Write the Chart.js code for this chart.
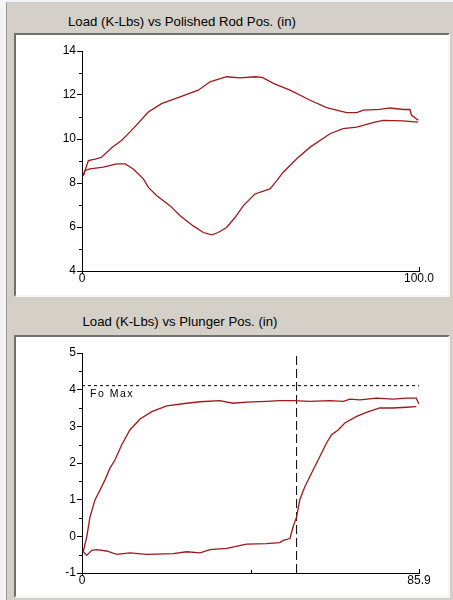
<!DOCTYPE html>
<html>
<head>
<meta charset="utf-8">
<script src="https://cdn.jsdelivr.net/npm/chart.js@4.4.0/dist/chart.umd.min.js"></script>
<style>
  body { margin: 0; width: 453px; height: 600px; background: #f4f4f4; position: relative; overflow: hidden;
         font-family: "Liberation Sans", Arial, sans-serif; }
  .frame { position: absolute; left: 6px; top: 2px; width: 447px; height: 598px; background: #d4d0c8;
           border-left: 1px solid #9a9a9a; border-top: 1px solid #c4ccd0; }
  .title { position: absolute; font-size: 13.2px; line-height: 16px; color: #000; white-space: nowrap;
           transform: translateX(-50%); }
  .box { position: absolute; left: 14px; width: 432px; background: #fff;
         border-top: 2px solid #707070; border-left: 2px solid #707070;
         border-right: 2px solid #f6f6f6; border-bottom: 2px solid #f6f6f6; }
  canvas { position: absolute; }
</style>
</head>
<body>
<div class="frame"></div>
<div class="title" style="left:182px; top:14px;">Load (K-Lbs) vs Polished Rod Pos. (in)</div>
<div class="box" style="top:33px; height:260px;"></div>
<div class="title" style="left:180px; top:314px;">Load (K-Lbs) vs Plunger Pos. (in)</div>
<div class="box" style="top:335px; height:259px;"></div>
<canvas id="rod" width="432" height="260" style="left:16px; top:35px;"></canvas>
<canvas id="plunger" width="432" height="259" style="left:16px; top:337px;"></canvas>
<script>
// Polished rod card (surface)
const rodUpPos = [0.4, 1.9, 3.9, 5.8, 8.8, 11.8, 14.7, 19.7, 23.6, 29.1, 34.5, 38.0, 42.9, 46.9, 51.3, 53.5,
    56.8, 61.7, 67.7, 72.6, 78.5, 81.5, 83.5, 88.4, 91.4, 95.3, 97.3, 97.8, 99.8];
const rodUpLoad = [8.34, 9.02, 9.08, 9.17, 9.6, 9.94, 10.39, 11.23, 11.61, 11.91, 12.22, 12.6, 12.83, 12.78, 12.83, 12.8,
    12.53, 12.22, 11.76, 11.43, 11.2, 11.2, 11.31, 11.35, 11.41, 11.34, 11.34, 11.08, 10.85];
const rodDownPos = [99.7, 95.3, 89.4, 86.9, 81.5, 77.5, 73.6, 67.7, 63.7, 59.7, 57.8, 55.8, 51.3, 47.9, 45.4, 42.9,
    40.4, 38.5, 36.0, 33.0, 29.1, 26.1, 22.2, 19.7, 18.2, 15.2, 12.8, 10.3, 6.3, 2.4, 0.9, 0.4];
const rodDownLoad = [10.77, 10.82, 10.85, 10.77, 10.54, 10.47, 10.24, 9.63, 9.1, 8.49, 8.11, 7.73, 7.5, 6.97, 6.43, 5.98,
    5.75, 5.64, 5.75, 6.05, 6.51, 6.97, 7.42, 7.8, 8.19, 8.64, 8.87, 8.87, 8.72, 8.64, 8.57, 8.34];
const rodStroke = 100.0;

// Plunger card (downhole)
const plUpPos = [0.33, 1.2, 2.04, 3.3, 4.15, 5.86, 7.13, 8.4, 10.1, 12.2, 14.8, 17.8, 21.6, 26.7, 30.1, 35.1,
    38.5, 41.9, 47.0, 50.4, 53.8, 58.1, 63.2, 66.6, 68.3, 70.8, 75.1, 79.3, 82.7, 85.2, 85.9];
const plUpLoad = [-0.42, -0.02, 0.53, 0.99, 1.17, 1.54, 1.86, 2.08, 2.49, 2.9, 3.2, 3.4, 3.56, 3.63, 3.67, 3.7,
    3.63, 3.66, 3.68, 3.7, 3.7, 3.68, 3.7, 3.68, 3.74, 3.72, 3.77, 3.74, 3.77, 3.77, 3.61];
const plDownPos = [85.2, 82.7, 79.3, 75.9, 72.5, 70.0, 67.0, 65.3, 63.6, 62.3, 60.6, 58.5, 56.8, 55.5, 54.7, 53.8,
    53.0, 51.3, 50.4, 47.0, 41.9, 36.9, 32.6, 30.1, 26.7, 23.3, 16.5, 12.2, 8.8, 6.3, 3.7, 2.5, 1.2, 0.33];
const plDownLoad = [3.54, 3.52, 3.5, 3.5, 3.38, 3.27, 3.09, 2.9, 2.77, 2.54, 2.17, 1.72, 1.35, 0.99, 0.53, 0.26,
    -0.06, -0.11, -0.17, -0.2, -0.21, -0.33, -0.36, -0.45, -0.42, -0.47, -0.49, -0.45, -0.49, -0.4, -0.36, -0.38, -0.52, -0.42];
const plStroke = 85.9;
const foMax = 4.11;
const plMarker = 54.7;

const cardColor = "#a01818";
const tickFont = { family: "'Liberation Sans', Arial, sans-serif", size: 12 };

const toPoints = (xs, ys) => xs.map((x, i) => ({ x: x, y: ys[i] }));

// Minor ticks on the load axis, little end ticks on the position axis, Fo Max label
const axisMarks = {
    id: "axisMarks",
    afterDraw(chart, args, opts) {
        const { ctx, scales: { x, y } } = chart;
        ctx.save();
        ctx.strokeStyle = "#000";
        ctx.lineWidth = 1;
        ctx.beginPath();
        const n = Math.round((y.max - y.min) / opts.minorStep);
        for (let i = 0; i <= n; i++) {
            if (i % 2 === 0) continue;
            const py = Math.round(y.getPixelForValue(y.min + i * opts.minorStep)) + 0.5;
            ctx.moveTo(x.left - 3, py);
            ctx.lineTo(x.left, py);
        }
        const x0 = Math.round(x.getPixelForValue(x.min)) + 0.5;
        const x1 = Math.round(x.getPixelForValue(x.max)) + 0.5;
        const yb = Math.round(y.bottom);
        ctx.moveTo(x0, yb);
        ctx.lineTo(x0, yb + 3);
        ctx.moveTo(x1, yb);
        ctx.lineTo(x1, yb - 4);
        if (opts.midTick) {
            const xm = Math.round((x0 + x1) / 2) + 0.5;
            ctx.moveTo(xm, yb);
            ctx.lineTo(xm, yb - 3);
        }
        ctx.stroke();
        if (opts.label) {
            ctx.fillStyle = "#000";
            ctx.font = "10.5px 'Liberation Sans', Arial, sans-serif";
            ctx.letterSpacing = "1.5px";
            ctx.textBaseline = "alphabetic";
            ctx.fillText(opts.label.text, x.left + 8, y.getPixelForValue(opts.label.value) + 11);
        }
        ctx.restore();
    }
};

function makeCard(canvasId, upX, upY, downX, downY, stroke, yMin, yMax, yStep, extra, pad) {
    const datasets = [
        { data: toPoints(upX, upY), borderColor: cardColor, borderWidth: 1.3 },
        { data: toPoints(downX, downY), borderColor: cardColor, borderWidth: 1.3 },
    ].concat(extra);
    return new Chart(document.getElementById(canvasId), {
        type: "scatter",
        plugins: [axisMarks],
        data: { datasets: datasets.map(d => Object.assign({ showLine: true, pointRadius: 0, tension: 0 }, d)) },
        options: {
            responsive: false,
            animation: false,
            layout: { padding: { top: pad.top, right: pad.right, left: 0, bottom: 0 } },
            plugins: {
                legend: { display: false },
                tooltip: { enabled: false },
                axisMarks: pad.marks,
            },
            scales: {
                x: {
                    type: "linear", min: 0, max: stroke,
                    afterBuildTicks: (s) => { s.ticks = [{ value: 0 }, { value: stroke }]; },
                    afterFit: (s) => { s.height = pad.xHeight; },
                    grid: { display: false, drawTicks: false },
                    border: { display: true, color: "#000", width: 1 },
                    ticks: {
                        color: "#000", font: tickFont, padding: 0, maxRotation: 0, autoSkip: false,
                        callback: (v) => (v === 0 ? "0" : v.toFixed(1)),
                    },
                },
                y: {
                    type: "linear", min: yMin, max: yMax,
                    afterFit: (s) => { s.width = pad.yWidth; },
                    grid: { display: true, drawOnChartArea: false, drawTicks: true, tickLength: 5, color: "#000", tickColor: "#000" },
                    border: { display: true, color: "#000", width: 1 },
                    ticks: { color: "#000", font: tickFont, padding: 1, stepSize: yStep },
                },
            },
        },
    });
}

makeCard("rod", rodUpPos, rodUpLoad, rodDownPos, rodDownLoad, rodStroke, 4, 14, 2, [],
    { top: 16, right: 29, xHeight: 24, yWidth: 66, marks: { minorStep: 1 } });

makeCard("plunger", plUpPos, plUpLoad, plDownPos, plDownLoad, plStroke, -1, 5, 1, [
    { data: [{ x: 0, y: foMax }, { x: plStroke, y: foMax }], borderColor: "#000", borderWidth: 1, borderDash: [3, 3] },
    { data: [{ x: plMarker, y: -1 }, { x: plMarker, y: 5 }], borderColor: "#000", borderWidth: 1, borderDash: [9, 4] },
], { top: 16, right: 29, xHeight: 23, yWidth: 66, marks: { minorStep: 0.5, midTick: true, label: { text: "Fo Max", value: foMax } } });
</script>
</body>
</html>
